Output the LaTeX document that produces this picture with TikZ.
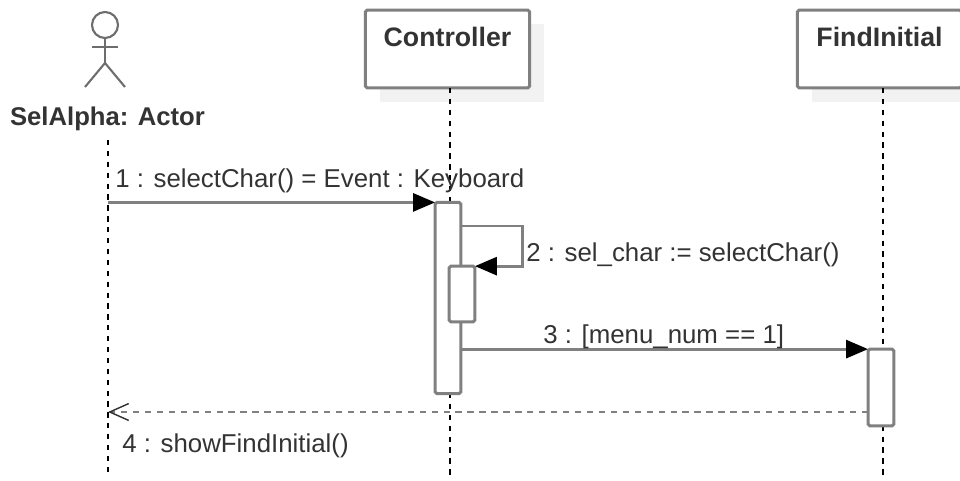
\documentclass[tikz,border=0pt]{standalone}
\usepackage{fontspec}
\setmainfont{Liberation Sans}
\usetikzlibrary{arrows.meta}

\tikzset{
  objbox/.style={draw=linegray,line width=1.7pt,fill=white,rounded corners=1pt,inner sep=0pt,outer sep=0pt,
    minimum width=93.5pt,font=\bfseries\fontsize{15.2}{17}\selectfont,text=textgray,
    text height=20.6pt,text depth=23.6pt},
  objshadow/.style={fill=shadowgray,inner sep=0pt,minimum width=93.5pt,minimum height=44.2pt},
  actorlabel/.style={font=\bfseries\fontsize{14.6}{16}\selectfont,text=textgray,inner sep=0pt},
  msglabel/.style={font=\fontsize{14.7}{16}\selectfont,text=textgray,inner sep=0pt},
  bar/.style={draw=linegray,line width=1.7pt,fill=white,rounded corners=1pt,inner sep=0pt,outer sep=0pt,minimum width=14.7pt},
  lifeline/.style={black,line width=0.9pt,dash pattern=on 3pt off 3.2pt},
  msg/.style={draw=linegray,line width=1.7pt,-{Triangle[length=12.5pt,width=10.2pt,black]}},
  reply/.style={draw=linegray,line width=1.7pt,dash pattern=on 3.6pt off 3.2pt,
    -{Straight Barb[length=10.8pt,width=9.6pt,line width=0.8pt,textgray]}},
  actorline/.style={draw=linegray!85!black,line width=1.2pt}
}
\definecolor{linegray}{HTML}{808080}
\definecolor{textgray}{HTML}{333333}
\definecolor{shadowgray}{HTML}{F2F2F2}

\begin{document}
\begin{tikzpicture}[x=0.02cm,y=-0.02cm]

\clip (0,0) rectangle (960,480);

% actor
\draw[actorline] (105,25) circle (13);
\draw[actorline] (105,38) -- (105,63);
\draw[actorline] (92,47) -- (118,47);
\draw[actorline] (85,87) -- (105,63) -- (125,87);
\node[actorlabel] (actorname) at (107.5,118.5) {SelAlpha: Actor};

% objects
\node[objshadow] (controllershadow) at (462,63) {};
\node[objshadow] (findinitialshadow) at (894,63) {};
\node[objbox] (controller) at (447.5,49) {Controller};
\node[objbox] (findinitial) at (879.5,49) {FindInitial};

% lifelines
\coordinate (actortop) at (108,140);
\coordinate (actorend) at (108,472);
\coordinate (controllertop) at (450,88);
\coordinate (controllerend) at (450,480);
\coordinate (findinitialtop) at (883,88);
\coordinate (findinitialend) at (883,480);
\draw[lifeline] (actortop) -- (actorend);
\draw[lifeline] (controllertop) -- (controllerend);
\draw[lifeline] (findinitialtop) -- (findinitialend);

% activation bars
\node[bar,minimum height=108.8pt] (controllerbar) at (448,298) {};
\node[bar,minimum height=31.7pt] (selfbar) at (462,294) {};
\node[bar,minimum height=43.7pt] (findinitialbar) at (881,387.5) {};

% messages
\draw[msg] (actortop |- controllerbar.north west) -- (controllerbar.north west);
\node[msglabel,anchor=west] (msgone) at (115,180.5) {1 : selectChar() = Event : Keyboard};

\coordinate (selfstart) at (461,226);
\coordinate (selfcorner) at (522,226);
\draw[msg] (selfstart) -- (selfcorner) |- (selfbar.north east);
\node[msglabel,anchor=west] (msgtwo) at (526,254.5) {2 : sel\_char := selectChar()};

\draw[msg] (controllerbar.east |- findinitialbar.north west) -- (findinitialbar.north west);
\node[msglabel,anchor=west] (msgthree) at (543,336.5) {3 : [menu\_num == 1]};

\coordinate (replystart) at (868,412);
\draw[reply] (replystart) -- (actortop |- replystart);
\node[msglabel,anchor=west] (msgfour) at (122,445.5) {4 : showFindInitial()};

\end{tikzpicture}
\end{document}
